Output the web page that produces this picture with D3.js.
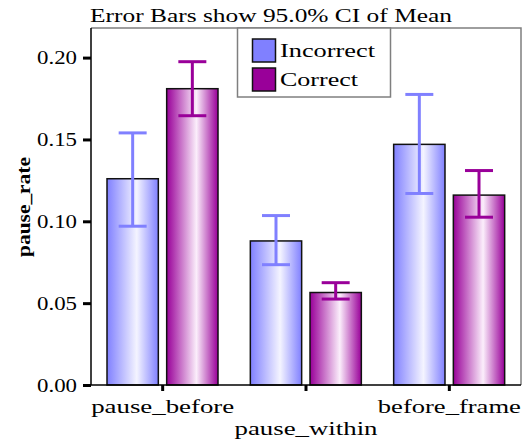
<!DOCTYPE html>
<html><head><meta charset="utf-8">
<script src="https://cdn.jsdelivr.net/npm/d3@7/dist/d3.min.js"></script>
<style>body{margin:0;background:#fff}svg{display:block}</style>
</head><body>
<script>
const categories = ["pause_before", "pause_within", "before_frame"];
const series = ["Incorrect", "Correct"];
const means = {Incorrect: [0.126, 0.088, 0.147], Correct: [0.181, 0.0565, 0.116]};
const ciLow = {Incorrect: [0.097, 0.0735, 0.117], Correct: [0.1645, 0.0525, 0.1025]};
const ciHigh = {Incorrect: [0.154, 0.1035, 0.1775], Correct: [0.1975, 0.0625, 0.131]};
const yTicks = [0, 0.05, 0.10, 0.15, 0.20];
const colors = {Incorrect: "#8080ff", Correct: "#990099"};
const lightColors = {Incorrect: "#f4f4ff", Correct: "#fbeefb"};

const W = 524, H = 445;
const L = 91, R = 521, T = 28, B = 385;
const svg = d3.select("body").append("svg").attr("width", W).attr("height", H);
const font = "'Liberation Serif', 'DejaVu Serif', serif";

const y = d3.scaleLinear().domain([0, 0.2]).range([B, B - 0.2 * 1637]);
const x0 = d3.scaleBand().domain(categories).range([L, R]).padding(0);
const x1 = d3.scaleBand().domain(series).range([16, 127]).paddingInner(0.14);

const defs = svg.append("defs");
series.forEach(s => {
  const g = defs.append("linearGradient").attr("id", "g" + s).attr("x1", "0").attr("x2", "1").attr("y1", "0").attr("y2", "0");
  g.append("stop").attr("offset", "0").attr("stop-color", colors[s]);
  g.append("stop").attr("offset", "0.58").attr("stop-color", lightColors[s]);
  g.append("stop").attr("offset", "1").attr("stop-color", colors[s]);
});

// frame (gray)
svg.append("path").attr("d", `M${L},${T}H${R}V${B}`).attr("fill", "none").attr("stroke", "#7f7f7f").attr("stroke-width", 1.5);

// title
svg.append("text").attr("x", 90).attr("y", 22).attr("font-family", font).attr("font-size", 18)
  .attr("textLength", 362).attr("lengthAdjust", "spacingAndGlyphs").text("Error Bars show 95.0% CI of Mean");

// bars
const data = [];
categories.forEach((c, i) => series.forEach(s => data.push({c, s, v: means[s][i], lo: ciLow[s][i], hi: ciHigh[s][i]})));
const bars = svg.append("g");
bars.selectAll("rect").data(data).join("rect")
  .attr("x", d => x0(d.c) + x1(d.s)).attr("y", d => y(d.v))
  .attr("width", x1.bandwidth()).attr("height", d => y(0) - y(d.v))
  .attr("fill", d => `url(#g${d.s})`).attr("stroke", "#111").attr("stroke-width", 1.5);

// error bars
const eb = svg.append("g").selectAll("g").data(data).join("g")
  .attr("stroke", d => colors[d.s]).attr("stroke-width", 3);
const cx = d => x0(d.c) + x1(d.s) + x1.bandwidth() / 2;
eb.append("line").attr("x1", cx).attr("x2", cx).attr("y1", d => y(d.lo)).attr("y2", d => y(d.hi));
eb.append("line").attr("x1", d => cx(d) - 14).attr("x2", d => cx(d) + 14).attr("y1", d => y(d.lo)).attr("y2", d => y(d.lo));
eb.append("line").attr("x1", d => cx(d) - 14).attr("x2", d => cx(d) + 14).attr("y1", d => y(d.hi)).attr("y2", d => y(d.hi));

// y axis
const yAxis = svg.append("g").attr("transform", `translate(${L},0)`)
  .call(d3.axisLeft(y).tickValues(yTicks).tickFormat(d3.format(".2f")).tickSize(8).tickPadding(6));
yAxis.select(".domain").attr("stroke", "#000").attr("stroke-width", 1.5).attr("d", `M0,${T}V${B}`);
yAxis.selectAll(".tick line").attr("stroke", "#000").attr("stroke-width", 3);
yAxis.selectAll(".tick text").attr("font-family", font).attr("font-size", 18).attr("fill", "#000")
  .attr("textLength", 40).attr("lengthAdjust", "spacingAndGlyphs").attr("dy", "0.34em");

// x axis
const xAxis = svg.append("g").attr("transform", `translate(0,${B})`)
  .call(d3.axisBottom(x0).tickSize(6).tickFormat(""));
xAxis.select(".domain").attr("stroke", "#000").attr("stroke-width", 1.5).attr("d", `M${L - 8},0H${R}`);
xAxis.selectAll(".tick line").attr("stroke", "#000").attr("stroke-width", 3);
xAxis.selectAll(".tick").append("text")
  .attr("y", (d, i) => i % 2 === 0 ? 28 : 50)
  .attr("fill", "#000").attr("font-family", font).attr("font-size", 19)
  .attr("text-anchor", "middle").attr("textLength", 143).attr("lengthAdjust", "spacingAndGlyphs")
  .text(d => d);

// y title
svg.append("text").attr("transform", "translate(30,207) rotate(-90)").attr("text-anchor", "middle")
  .attr("font-family", font).attr("font-size", 18).attr("font-weight", "bold")
  .attr("textLength", 100).attr("lengthAdjust", "spacingAndGlyphs").text("pause_rate");

// legend
const lg = svg.append("g");
lg.append("rect").attr("x", 237.5).attr("y", T).attr("width", 153).attr("height", 69)
  .attr("fill", "#fff").attr("stroke", "#7f7f7f").attr("stroke-width", 1.5);
series.forEach((s, i) => {
  const yy = 39 + i * 29;
  lg.append("rect").attr("x", 252.5).attr("y", yy).attr("width", 23).attr("height", 23)
    .attr("fill", colors[s]).attr("stroke", "#111").attr("stroke-width", 1.5);
  lg.append("text").attr("x", 280).attr("y", yy + 18).attr("font-family", font).attr("font-size", 19)
    .attr("textLength", s === "Incorrect" ? 95 : 78).attr("lengthAdjust", "spacingAndGlyphs").text(s);
});
</script>
</body></html>
